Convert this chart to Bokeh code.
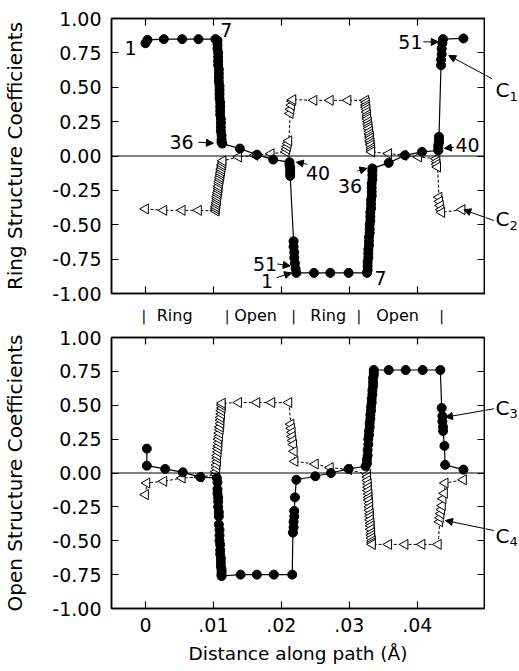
import math
from bokeh.plotting import figure
from bokeh.layouts import column, row
from bokeh.models import (LinearAxis, FixedTicker, CustomJSTickFormatter, Range1d,
                          Span, Label, Arrow, NormalHead)
from bokeh.core.properties import value
from bokeh.embed import file_html
from bokeh.resources import INLINE

FONT = "DejaVu Sans"

X_TICKS = [0, 0.01, 0.02, 0.03, 0.04, 0.05]
X_TICK_LABELS = ["0", ".01", ".02", ".03", ".04", ".05"]
Y_TICKS = [-1.0, -0.75, -0.5, -0.25, 0.0, 0.25, 0.5, 0.75, 1.0]
Y_TICK_LABELS = ["-1.00", "-0.75", "-0.50", "-0.25", "0.00", "0.25", "0.50", "0.75", "1.00"]

REGION_NAMES = ["Ring", "Open", "Ring", "Open"]
REGION_CENTERS = [0.0043, 0.0162, 0.0269, 0.0371]
REGION_BOUNDS = [-0.00025, 0.0120, 0.0218, 0.0314, 0.0436]

# ---- Ring structure coefficients (top panel) ----
C1 = [(0.0000, 0.82), (0.0003, 0.845), (0.0027, 0.85), (0.0054, 0.85), (0.0078, 0.85), (0.0103, 0.85),
      (0.0106, 0.84), (0.0106, 0.81), (0.0106, 0.78), (0.0107, 0.75), (0.0107, 0.72), (0.0107, 0.69),
      (0.0107, 0.66), (0.0108, 0.63), (0.0108, 0.60), (0.0108, 0.57), (0.0108, 0.54), (0.0109, 0.51),
      (0.0109, 0.48), (0.0109, 0.45), (0.0109, 0.42), (0.0110, 0.39), (0.0110, 0.36), (0.0110, 0.33),
      (0.0110, 0.30), (0.0111, 0.27), (0.0111, 0.24), (0.0111, 0.21), (0.0111, 0.18), (0.0112, 0.15),
      (0.0112, 0.12), (0.0112, 0.10), (0.0113, 0.09),
      (0.0139, 0.054), (0.0164, 0.010), (0.0188, -0.026),
      (0.0212, -0.045), (0.0212, -0.065), (0.0213, -0.085), (0.0213, -0.105), (0.0213, -0.125), (0.0213, -0.145),
      (0.0218, -0.62), (0.0218, -0.66), (0.0219, -0.70), (0.0219, -0.74), (0.0220, -0.78), (0.0221, -0.82),
      (0.0222, -0.85),
      (0.0248, -0.85), (0.0272, -0.85), (0.0299, -0.85), (0.0326, -0.85),
      (0.0327, -0.83), (0.0327, -0.80), (0.0327, -0.77), (0.0328, -0.74), (0.0328, -0.71), (0.0328, -0.68),
      (0.0329, -0.65), (0.0329, -0.62), (0.0329, -0.59), (0.0330, -0.56), (0.0330, -0.53), (0.0330, -0.50),
      (0.0331, -0.47), (0.0331, -0.44), (0.0331, -0.41), (0.0332, -0.38), (0.0332, -0.35), (0.0332, -0.32),
      (0.0333, -0.29), (0.0333, -0.26), (0.0333, -0.23), (0.0333, -0.20), (0.0334, -0.17), (0.0334, -0.14),
      (0.0334, -0.11), (0.0334, -0.09),
      (0.0358, -0.05), (0.0382, 0.005), (0.0407, 0.03),
      (0.0431, 0.04), (0.0431, 0.06), (0.0431, 0.08), (0.0432, 0.10), (0.0432, 0.12), (0.0432, 0.14),
      (0.0435, 0.66), (0.0435, 0.70), (0.0436, 0.74), (0.0436, 0.78), (0.0437, 0.82), (0.0438, 0.85),
      (0.0468, 0.855)]

C2 = [(0.0000, -0.385), (0.0027, -0.395), (0.0054, -0.395), (0.0078, -0.395), (0.0104, -0.40),
      (0.0104, -0.385), (0.0104, -0.37), (0.0105, -0.355), (0.0105, -0.34), (0.0106, -0.325), (0.0106, -0.31),
      (0.0106, -0.295), (0.0107, -0.28), (0.0107, -0.265), (0.0108, -0.25), (0.0108, -0.235), (0.0108, -0.22),
      (0.0109, -0.20), (0.0109, -0.185), (0.0110, -0.17), (0.0110, -0.155), (0.0111, -0.14), (0.0111, -0.125),
      (0.0112, -0.11), (0.0112, -0.095), (0.0113, -0.08), (0.0113, -0.065), (0.0114, -0.05), (0.0114, -0.035),
      (0.0137, -0.007), (0.0161, 0.005), (0.0185, 0.017),
      (0.0207, 0.03), (0.0208, 0.05), (0.0209, 0.07), (0.0210, 0.09), (0.0211, 0.11),
      (0.0213, 0.31), (0.0214, 0.34), (0.0215, 0.37), (0.0216, 0.40), (0.0217, 0.41),
      (0.0248, 0.405), (0.0272, 0.405), (0.0298, 0.405), (0.0324, 0.405),
      (0.0325, 0.39), (0.0325, 0.37), (0.0325, 0.355), (0.0326, 0.34), (0.0326, 0.32), (0.0327, 0.30),
      (0.0327, 0.285), (0.0327, 0.27), (0.0328, 0.25), (0.0328, 0.23), (0.0329, 0.215), (0.0329, 0.20),
      (0.0330, 0.18), (0.0330, 0.16), (0.0331, 0.145), (0.0331, 0.13), (0.0331, 0.11), (0.0332, 0.095),
      (0.0332, 0.08), (0.0333, 0.06), (0.0333, 0.045), (0.0333, 0.03),
      (0.0358, 0.017), (0.0380, 0.005), (0.0402, -0.007),
      (0.0428, -0.02), (0.0429, -0.04), (0.0429, -0.06), (0.0430, -0.08),
      (0.0432, -0.30), (0.0433, -0.33), (0.0434, -0.36), (0.0435, -0.39), (0.0436, -0.41),
      (0.0466, -0.39)]

# ---- Open structure coefficients (bottom panel) ----
C3 = [(0.0002, 0.18), (0.0002, 0.054), (0.0029, 0.03), (0.0055, 0.005), (0.0081, -0.03), (0.0105, -0.036),
      (0.0106, -0.07), (0.0106, -0.12), (0.0106, -0.15), (0.0107, -0.18), (0.0107, -0.21), (0.0107, -0.25),
      (0.0108, -0.29), (0.0108, -0.32), (0.0108, -0.38), (0.0109, -0.42), (0.0109, -0.46), (0.0109, -0.50),
      (0.0110, -0.53), (0.0110, -0.57), (0.0110, -0.60), (0.0111, -0.63), (0.0111, -0.66), (0.0111, -0.69),
      (0.0112, -0.71), (0.0112, -0.73), (0.0112, -0.75), (0.0112, -0.76),
      (0.0140, -0.75), (0.0164, -0.75), (0.0189, -0.75), (0.0216, -0.75),
      (0.0217, -0.44), (0.0218, -0.40), (0.0218, -0.36), (0.0219, -0.32), (0.0219, -0.28), (0.0220, -0.18),
      (0.0222, -0.05),
      (0.0250, -0.024), (0.0273, 0.0), (0.0299, 0.03), (0.0324, 0.05),
      (0.0326, 0.07), (0.0326, 0.10), (0.0327, 0.13), (0.0327, 0.17), (0.0328, 0.21), (0.0328, 0.25),
      (0.0329, 0.28), (0.0329, 0.31), (0.0330, 0.34), (0.0330, 0.37), (0.0331, 0.40), (0.0331, 0.43),
      (0.0332, 0.46), (0.0332, 0.49), (0.0333, 0.52), (0.0333, 0.55), (0.0334, 0.58), (0.0334, 0.61),
      (0.0335, 0.64), (0.0335, 0.67), (0.0335, 0.70), (0.0336, 0.72), (0.0336, 0.74), (0.0336, 0.76),
      (0.0358, 0.76), (0.0383, 0.76), (0.0408, 0.76), (0.0434, 0.76),
      (0.0436, 0.48), (0.0437, 0.42), (0.0437, 0.38), (0.0438, 0.34), (0.0438, 0.31), (0.0440, 0.20),
      (0.0441, 0.06),
      (0.0468, 0.025)]

C4 = [(0.0000, -0.16), (0.0002, -0.074), (0.0027, -0.061), (0.0054, -0.037), (0.0080, -0.03),
      (0.0104, -0.01), (0.0104, 0.01), (0.0105, 0.035), (0.0105, 0.06), (0.0106, 0.085), (0.0106, 0.11),
      (0.0106, 0.13), (0.0107, 0.155), (0.0107, 0.18), (0.0108, 0.20), (0.0108, 0.225), (0.0108, 0.25),
      (0.0109, 0.27), (0.0109, 0.295), (0.0110, 0.32), (0.0110, 0.34), (0.0111, 0.365), (0.0111, 0.39),
      (0.0111, 0.41), (0.0112, 0.435), (0.0112, 0.46), (0.0113, 0.48), (0.0113, 0.50), (0.0113, 0.515),
      (0.0137, 0.52), (0.0164, 0.52), (0.0186, 0.52), (0.0211, 0.52),
      (0.0214, 0.36), (0.0215, 0.33), (0.0216, 0.30), (0.0216, 0.27), (0.0217, 0.24), (0.0218, 0.21),
      (0.0219, 0.16), (0.0220, 0.086),
      (0.0250, 0.066), (0.0272, 0.04), (0.0299, 0.025),
      (0.0327, -0.01), (0.0327, -0.03), (0.0327, -0.055), (0.0328, -0.08), (0.0328, -0.105), (0.0328, -0.13),
      (0.0329, -0.155), (0.0329, -0.18), (0.0329, -0.20), (0.0330, -0.225), (0.0330, -0.25), (0.0330, -0.275),
      (0.0331, -0.30), (0.0331, -0.32), (0.0331, -0.345), (0.0332, -0.37), (0.0332, -0.39), (0.0332, -0.415),
      (0.0333, -0.44), (0.0333, -0.46), (0.0333, -0.48), (0.0334, -0.50), (0.0334, -0.515), (0.0334, -0.527),
      (0.0358, -0.527), (0.0382, -0.527), (0.0407, -0.527), (0.0431, -0.527),
      (0.0433, -0.36), (0.0434, -0.33), (0.0435, -0.30), (0.0436, -0.27), (0.0437, -0.24), (0.0438, -0.19),
      (0.0440, -0.15), (0.0441, -0.074),
      (0.0468, -0.05)]

# ---------------- layout constants (page pixels) ----------------
X0, X1 = -0.005, 0.0499
FRAME_L, FRAME_R = 111, 484
MAIN_W = 485
SIDE_W = 519 - MAIN_W


def px_to_x(px):
    return X0 + (px - FRAME_L) * (X1 - X0) / (FRAME_R - FRAME_L)


def tick_formatter(tick_values, tick_texts):
    return CustomJSTickFormatter(args=dict(tvals=tick_values, ttexts=tick_texts), code="""
        for (let i = 0; i < tvals.length; i++) {
            if (Math.abs(tvals[i] - tick) < 1e-9) { return ttexts[i]; }
        }
        return '';
    """)


def blank_formatter():
    return CustomJSTickFormatter(code="return '';")


def style(ax):
    ax.major_tick_in = 7
    ax.major_tick_out = 0
    ax.minor_tick_line_color = None
    ax.axis_line_width = 1.5
    ax.major_tick_line_width = 1.2
    ax.axis_line_color = "black"
    ax.major_tick_line_color = "black"
    ax.major_label_text_color = "black"
    ax.major_label_text_font = FONT
    ax.axis_label_text_font = FONT
    ax.axis_label_text_font_style = "normal"
    ax.axis_label_text_color = "black"


def tick_only_axis(ticks):
    ax = LinearAxis(ticker=FixedTicker(ticks=ticks), formatter=blank_formatter())
    style(ax)
    ax.major_label_text_color = None
    ax.major_label_text_font_size = "1px"
    ax.major_label_standoff = 0
    return ax


def make_panel(height, border_top, border_bottom, ylabel, show_x):
    p = figure(width=MAIN_W, height=height, x_range=Range1d(X0, X1), y_range=Range1d(-1.0, 1.0),
               output_backend="svg", toolbar_location=None, x_axis_location=None, y_axis_location=None,
               min_border_left=FRAME_L, min_border_right=MAIN_W - FRAME_R, min_border_top=border_top,
               min_border_bottom=border_bottom)
    p.grid.visible = False
    p.outline_line_color = "black"
    p.outline_line_width = 1.5
    p.border_fill_color = "white"

    left = LinearAxis(ticker=FixedTicker(ticks=Y_TICKS), formatter=tick_formatter(Y_TICKS, Y_TICK_LABELS))
    style(left)
    left.major_label_text_font_size = "19px"
    left.major_label_standoff = 10
    left.axis_label = ylabel
    left.axis_label_text_font_size = "20px"
    left.axis_label_standoff = 22
    p.add_layout(left, "left")
    p.add_layout(tick_only_axis(Y_TICKS), "right")
    p.add_layout(tick_only_axis(X_TICKS), "above")
    if show_x:
        bottom = LinearAxis(ticker=FixedTicker(ticks=X_TICKS), formatter=tick_formatter(X_TICKS, X_TICK_LABELS))
        style(bottom)
        bottom.major_label_text_font_size = "19px"
        bottom.major_label_standoff = 9
        bottom.axis_label = "Distance along path (Å)"
        bottom.axis_label_text_font_size = "18.5px"
        bottom.axis_label_standoff = 8
        p.add_layout(bottom, "below")
    else:
        p.add_layout(tick_only_axis(X_TICKS), "below")
    p.add_layout(Span(location=0, dimension="width", line_color="black", line_width=1))
    return p


def make_side(main, height, border_top, border_bottom):
    s = figure(width=SIDE_W, height=height, x_range=Range1d(MAIN_W, 519), y_range=main.y_range,
               output_backend="svg", toolbar_location=None, x_axis_location=None, y_axis_location=None,
               min_border_left=0, min_border_right=0, min_border_top=border_top,
               min_border_bottom=border_bottom)
    s.grid.visible = False
    s.outline_line_color = None
    s.border_fill_color = "white"
    return s


def draw_pair(p, solid, dashed):
    xs, ys = zip(*dashed)
    p.line(list(xs), list(ys), line_color="black", line_width=1, line_dash="3 2")
    p.scatter(list(xs), list(ys), marker="triangle", angle=math.pi / 2, size=10,
              fill_color="white", line_color="black", line_width=1)
    xs, ys = zip(*solid)
    p.line(list(xs), list(ys), line_color="black", line_width=1.2)
    p.scatter(list(xs), list(ys), marker="circle", size=9, fill_color="black", line_color="black")


def label(p, x, y, text, size="19px", align="center"):
    p.add_layout(Label(x=x, y=y, text=text, text_font=FONT, text_font_size=size, text_color="black",
                       text_align=align, text_baseline="middle"))


def arrow(p, x0, y0, x1, y1, head=True):
    end = NormalHead(size=7, fill_color="black", line_color="black") if head else None
    p.add_layout(Arrow(x_start=x0, y_start=y0, x_end=x1, y_end=y1, line_color="black", line_width=1,
                       end=end))


def coeff_tag(main, side, name, sub, ly, sy, ax0, ay0, ax1, ay1, to_y):
    # label text lives in the side strip, the pointer crosses both
    label(side, 495, to_y(ly), name, "20px", "left")
    label(side, 509, to_y(sy), sub, "13px", "left")
    arrow(side, ax0, to_y(ay0), ax1, to_y(ay1), head=False)
    arrow(main, px_to_x(ax0), to_y(ay0), px_to_x(ax1), to_y(ay1))


# ---------- top panel ----------
TOP_H, TOP_BT, TOP_BB = 305, 18, 12
top = make_panel(TOP_H, TOP_BT, TOP_BB, "Ring Structure Coefficients", False)
top_side = make_side(top, TOP_H, TOP_BT, TOP_BB)
draw_pair(top, C1, C2)


def top_y(py):
    return (155.5 - py) / 137.5


label(top, -0.0022, 0.786, "1")
label(top, 0.0119, 0.917, "7")
label(top, 0.0053, 0.10, "36")
arrow(top, 0.0078, 0.10, 0.0100, 0.093)
label(top, 0.0254, -0.12, "40")
arrow(top, 0.0238, -0.06, 0.0222, -0.045)
label(top, 0.0301, -0.215, "36")
arrow(top, 0.0312, -0.11, 0.0326, -0.09)
label(top, 0.0176, -0.785, "51")
arrow(top, 0.0194, -0.785, 0.0213, -0.80)
label(top, 0.0179, -0.91, "1")
arrow(top, 0.0193, -0.885, 0.0215, -0.85)
label(top, 0.0346, -0.885, "7")
label(top, 0.0474, 0.078, "40")
arrow(top, 0.0454, 0.063, 0.0440, 0.056)
label(top, 0.0390, 0.83, "51")
arrow(top, 0.0409, 0.83, 0.0431, 0.83)
coeff_tag(top, top_side, "C", "1", 89, 96, 491.7, 78.3, 448.3, 55.0, top_y)
coeff_tag(top, top_side, "C", "2", 218, 225, 493.3, 220.0, 463.3, 209.3, top_y)

# ---------- region strip ----------
STRIP_H = 20
strip = figure(width=519, height=STRIP_H, x_range=top.x_range, y_range=Range1d(0, STRIP_H),
               output_backend="svg", toolbar_location=None, x_axis_location=None, y_axis_location=None,
               min_border_left=FRAME_L, min_border_right=519 - FRAME_R, min_border_top=0, min_border_bottom=0)
strip.grid.visible = False
strip.outline_line_color = None
strip.text(x=REGION_CENTERS, y=[STRIP_H / 2] * len(REGION_CENTERS), text=REGION_NAMES, text_font=value(FONT),
           text_font_size="16px", text_align="center", text_baseline="middle", text_color="black")
strip.text(x=REGION_BOUNDS, y=[STRIP_H / 2] * len(REGION_BOUNDS), text=["|"] * len(REGION_BOUNDS),
           text_font=value(FONT), text_font_size="14px", text_align="center", text_baseline="middle",
           text_color="black")

# ---------- bottom panel ----------
BOT_H, BOT_BT, BOT_BB = 346, 12, 63
bot = make_panel(BOT_H, BOT_BT, BOT_BB, "Open Structure Coefficients", True)
bot_side = make_side(bot, BOT_H, BOT_BT, BOT_BB)
draw_pair(bot, C3, C4)


def bot_y(py):
    return (472.5 - py) / 135.5


coeff_tag(bot, bot_side, "C", "3", 407.5, 413, 493.3, 408.3, 445.0, 416.7, bot_y)
coeff_tag(bot, bot_side, "C", "4", 535, 541, 493.3, 530.0, 445.0, 520.0, bot_y)

layout = column(row(top, top_side, spacing=0), strip, row(bot, bot_side, spacing=0), spacing=0)
open("out.html", "w").write(file_html(layout, INLINE))
